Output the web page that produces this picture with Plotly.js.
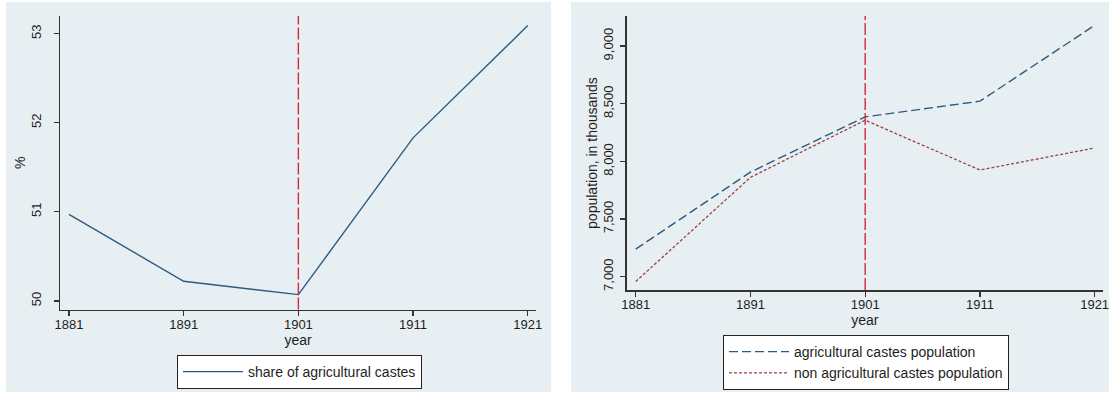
<!DOCTYPE html>
<html>
<head>
<meta charset="utf-8">
<script src="https://cdn.plot.ly/plotly-3.0.1.min.js"></script>
<style>
  html, body { margin: 0; padding: 0; background: #ffffff; }
  #chart { width: 1109px; height: 394px; }
</style>
</head>
<body>
<div id="chart"></div>
<script>
// Census years and series
const years = [1881, 1891, 1901, 1911, 1921];
const agriShare = [50.97, 50.22, 50.07, 51.83, 53.09];      // % of population in agricultural castes
const agriPop = [7238, 7907, 8386, 8522, 9180];             // thousands
const nonAgriPop = [6957, 7861, 8357, 7925, 8116];          // thousands
const breakYear = 1901;
const shareTicks = [50, 51, 52, 53];
const popTicks = [7000, 7500, 8000, 8500, 9000];

const W = 1109, H = 394;
const fx = p => p / W;
const fy = p => 1 - p / H;

const FONT = 'Liberation Sans, Arial, sans-serif';
const INK = '#1e1e1e';
const AXIS = '#333333';
const GRID = '#e4edf0';
const PANEL = '#e8eff2';
const NAVY = '#2c5a80';
const MAROON = '#9a4046';
const RED = '#d42a35';
const TICK_SIZE = 13;
const TEXT_SIZE = 14;

const traces = [
  {
    x: years, y: agriShare, type: 'scatter', mode: 'lines',
    name: 'share of agricultural castes',
    line: { color: NAVY, width: 1.4 },
    xaxis: 'x', yaxis: 'y', legend: 'legend'
  },
  {
    x: years, y: agriPop, type: 'scatter', mode: 'lines',
    name: 'agricultural castes population',
    line: { color: NAVY, width: 1.4, dash: '9px,4px' },
    xaxis: 'x2', yaxis: 'y2', legend: 'legend2'
  },
  {
    x: years, y: nonAgriPop, type: 'scatter', mode: 'lines',
    name: 'non agricultural castes population',
    line: { color: MAROON, width: 1.3, dash: '3px,2px' },
    xaxis: 'x2', yaxis: 'y2', legend: 'legend2'
  }
];

function xAxis(domain, range, anchor) {
  return {
    domain: domain, range: range, anchor: anchor,
    tickvals: years, ticktext: years.map(String),
    ticks: 'outside', ticklen: 5, tickwidth: 1.3, tickcolor: AXIS,
    ticklabelstandoff: -3, ticklabeloverflow: 'allow',
    showline: true, linecolor: AXIS, linewidth: 1.5,
    showgrid: false, zeroline: false,
    tickfont: { family: FONT, size: TICK_SIZE, color: INK },
    title: { text: 'year', font: { family: FONT, size: TEXT_SIZE, color: INK }, standoff: 0 },
    fixedrange: true
  };
}

function yAxis(domain, range, anchor, ticks, fmt, titleText, labelGap, titleGap) {
  return {
    domain: domain, range: range, anchor: anchor,
    tickvals: ticks, tickformat: fmt, tickangle: -90,
    ticks: 'outside', ticklen: 5, tickwidth: 1.3, tickcolor: AXIS,
    ticklabelstandoff: labelGap, ticklabeloverflow: 'allow',
    showline: true, linecolor: AXIS, linewidth: 1.5,
    showgrid: true, gridcolor: GRID, gridwidth: 1.2, zeroline: false,
    tickfont: { family: FONT, size: TICK_SIZE, color: INK },
    title: { text: titleText, font: { family: FONT, size: TEXT_SIZE, color: INK }, standoff: titleGap },
    fixedrange: true
  };
}

function legendBox(left, top) {
  return {
    x: fx(left), y: fy(top), xanchor: 'left', yanchor: 'top',
    bgcolor: '#ffffff', bordercolor: '#222222', borderwidth: 1,
    font: { family: FONT, size: TEXT_SIZE, color: INK },
    itemwidth: 60
  };
}

const layout = {
  width: W, height: H,
  margin: { l: 0, r: 0, t: 0, b: 0 },
  paper_bgcolor: '#ffffff',
  plot_bgcolor: '#ffffff',
  font: { family: FONT, size: TICK_SIZE, color: INK },
  showlegend: true,
  xaxis: xAxis([fx(60), fx(536)], [1880.215, 1921.72], 'y'),
  yaxis: yAxis([fy(309.5), fy(16)], [49.903, 53.198], 'x', shareTicks, 'd', '%', 7, 0),
  xaxis2: xAxis([fx(626.7), fx(1103)], [1880.215, 1921.73], 'y2'),
  yaxis2: yAxis([fy(290), fy(16)], [6884, 9261], 'x2', popTicks, ',d', 'population, in thousands', 2, 0),
  legend: legendBox(177, 355),
  legend2: legendBox(723, 335),
  shapes: [
    { type: 'rect', xref: 'paper', yref: 'paper', layer: 'below',
      x0: fx(6), x1: fx(551), y0: fy(392), y1: fy(2),
      fillcolor: PANEL, line: { width: 0 } },
    { type: 'rect', xref: 'paper', yref: 'paper', layer: 'below',
      x0: fx(571), x1: 1, y0: fy(392), y1: fy(2),
      fillcolor: PANEL, line: { width: 0 } },
    { type: 'line', xref: 'x', yref: 'y domain', layer: 'above',
      x0: breakYear, x1: breakYear, y0: 0, y1: 1,
      line: { color: RED, width: 1.4, dash: '12px,3px' } },
    { type: 'line', xref: 'x2', yref: 'y2 domain', layer: 'above',
      x0: breakYear, x1: breakYear, y0: 0, y1: 1,
      line: { color: RED, width: 1.4, dash: '12px,3px' } }
  ]
};

Plotly.newPlot('chart', traces, layout, { staticPlot: true, displayModeBar: false });
</script>
</body>
</html>
